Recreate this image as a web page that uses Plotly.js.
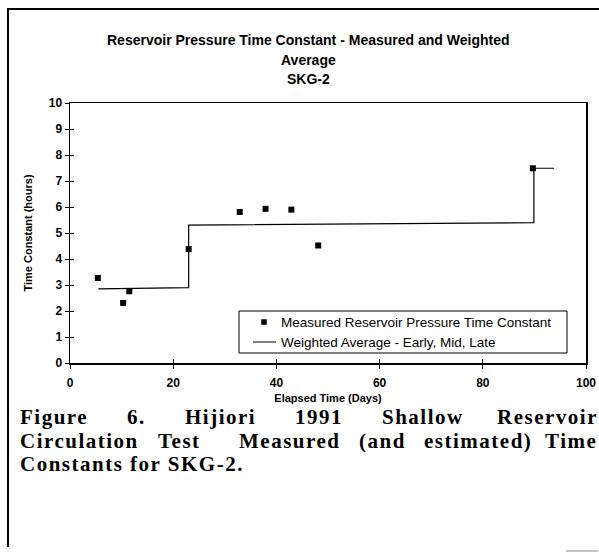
<!DOCTYPE html>
<html>
<head>
<meta charset="utf-8">
<script src="https://cdn.plot.ly/plotly-3.0.1.min.js"></script>
<style>
  html, body { margin: 0; padding: 0; background: #fff; }
  #chart { width: 599px; height: 553px; }
</style>
</head>
<body>
<div id="chart"></div>
<script>
// Measured reservoir pressure time constant (SKG-2)
const measuredDays  = [5.4, 10.3, 11.5, 23.0, 32.9, 37.9, 42.9, 48.1, 89.7];
const measuredHours = [3.27, 2.31, 2.76, 4.38, 5.81, 5.93, 5.9, 4.52, 7.49];

// Weighted average - early, mid, late (step line)
const avgDays  = [5.5, 23.0, 23.0, 89.9, 89.9, 93.8];
const avgHours = [2.85, 2.9, 5.3, 5.4, 7.49, 7.49];

const xTicks = [0, 20, 40, 60, 80, 100];
const yTicks = [0, 1, 2, 3, 4, 5, 6, 7, 8, 9, 10];

const seriesNames = ["Measured Reservoir Pressure Time Constant", "Weighted Average - Early, Mid, Late"];
const titleLines = ["Reservoir Pressure Time Constant - Measured and Weighted", "Average", "SKG-2"];
const captionLine1 = ["Figure", "6.", "Hijiori", "1991", "Shallow", "Reservoir"];
const captionLine2 = ["Circulation", "Test", "Measured", "(and", "estimated)", "Time"];
const captionLine3 = "Constants for SKG-2.";

// ---- layout geometry (pixels) ----
const W = 599, H = 553;
const PL = 70, PR = 586, PT = 103, PB = 363;
const px2x = p => (p - PL) / (PR - PL);
const py2y = p => (PB - p) / (PB - PT);

const sans = "Liberation Sans, Arial, sans-serif";
const serif = "Liberation Serif, Times New Roman, serif";

const annotations = [];
const titleY = [40, 60, 79];
titleLines.forEach((t, i) => {
  annotations.push({
    text: "<b>" + t + "</b>", xref: "paper", yref: "paper",
    x: px2x(308), y: py2y(titleY[i]), xanchor: "center", yanchor: "middle",
    showarrow: false, font: {family: sans, size: 14, color: "#000"}
  });
});

const capFont = {family: serif, size: 21, color: "#000", weight: "bold"};
const capWord = w => "<span style='letter-spacing:1.5px'>" + w + "</span>";
const capY = [417, 440.5, 464];
const cap1X = [18, 125.3, 182.8, 292.8, 379.6, 495];
captionLine1.forEach((w, i) => {
  annotations.push({
    text: capWord(w), xref: "paper", yref: "paper",
    x: px2x(cap1X[i]), y: py2y(capY[0]), xanchor: "left", yanchor: "middle",
    showarrow: false, font: capFont
  });
});
const cap2X = [18, 155.6, 237, 357.2, 422.4, 543];
captionLine2.forEach((w, i) => {
  annotations.push({
    text: capWord(w), xref: "paper", yref: "paper",
    x: px2x(cap2X[i]), y: py2y(capY[1]), xanchor: "left", yanchor: "middle",
    showarrow: false, font: capFont
  });
});
annotations.push({
  text: capWord(captionLine3), xref: "paper", yref: "paper",
  x: px2x(18), y: py2y(capY[2]), xanchor: "left", yanchor: "middle",
  showarrow: false, font: capFont
});

// legend (drawn as a boxed key)
const legFont = {family: sans, size: 13.5, color: "#000"};
[322, 342].forEach((yy, i) => {
  annotations.push({
    text: seriesNames[i], xref: "paper", yref: "paper",
    x: px2x(279), y: py2y(yy), xanchor: "left", yanchor: "middle",
    showarrow: false, font: legFont
  });
});

const shapes = [
  // page frame
  {type: "line", xref: "paper", yref: "paper", x0: px2x(7), x1: px2x(599), y0: py2y(9), y1: py2y(9), line: {color: "#000", width: 2}},
  {type: "line", xref: "paper", yref: "paper", x0: px2x(8), x1: px2x(8), y0: py2y(9), y1: py2y(547), line: {color: "#000", width: 2}},
  {type: "line", xref: "paper", yref: "paper", x0: px2x(566), x1: px2x(598), y0: py2y(551), y1: py2y(551), line: {color: "#888", width: 1}},
  // legend box and keys
  {type: "rect", xref: "paper", yref: "paper", x0: px2x(239), x1: px2x(567), y0: py2y(311), y1: py2y(353), line: {color: "#000", width: 1}, fillcolor: "#fff"},
  {type: "rect", xref: "paper", yref: "paper", x0: px2x(261.5), x1: px2x(266.5), y0: py2y(319.5), y1: py2y(324.5), line: {color: "#000", width: 0.5}, fillcolor: "#000"},
  {type: "line", xref: "paper", yref: "paper", x0: px2x(253), x1: px2x(276), y0: py2y(342), y1: py2y(342), line: {color: "#000", width: 1}}
];

const traces = [
  {
    x: measuredDays, y: measuredHours, type: "scatter", mode: "markers",
    name: seriesNames[0],
    marker: {symbol: "square", size: 6, color: "#000"}
  },
  {
    x: avgDays, y: avgHours, type: "scatter", mode: "lines",
    name: seriesNames[1],
    line: {color: "#000", width: 1.2}
  },
  // empty trace to carry the inner tick marks
  {x: [], y: [], xaxis: "x2", yaxis: "y2", type: "scatter", mode: "markers", hoverinfo: "skip"}
];

const tickFont = {family: sans, size: 12, color: "#000", weight: "bold"};
const layout = {
  width: W, height: H,
  margin: {l: PL, r: W - PR, t: PT, b: H - PB, pad: 0},
  paper_bgcolor: "#fff", plot_bgcolor: "#fff",
  showlegend: false,
  xaxis: {
    range: [0, 100], tickvals: xTicks, ticktext: xTicks.map(String),
    showgrid: false, zeroline: false, showline: true, mirror: true,
    linecolor: "#000", linewidth: 1.5, ticks: "outside", ticklen: 4, tickcolor: "#000",
    ticklabelstandoff: 4,
    tickfont: tickFont,
    title: {text: "<b>Elapsed Time (Days)</b>", font: {family: sans, size: 11, color: "#000"}, standoff: 5}
  },
  yaxis: {
    range: [0, 10], tickvals: yTicks, ticktext: yTicks.map(String),
    showgrid: false, zeroline: false, showline: true, mirror: true,
    linecolor: "#000", linewidth: 1.5, ticks: "outside", ticklen: 4, tickcolor: "#000",
    tickfont: tickFont,
    title: {text: "<b>Time Constant (hours)</b>", font: {family: sans, size: 11, color: "#000"}, standoff: 14}
  },
  xaxis2: {
    overlaying: "x", anchor: "y2", range: [0, 100], tickvals: xTicks,
    showticklabels: false, showgrid: false, zeroline: false, showline: false,
    ticks: "inside", ticklen: 4, tickcolor: "#000", side: "bottom"
  },
  yaxis2: {
    overlaying: "y", anchor: "x2", range: [0, 10], tickvals: yTicks,
    showticklabels: false, showgrid: false, zeroline: false, showline: false,
    ticks: "inside", ticklen: 4, tickcolor: "#000", side: "left"
  },
  annotations: annotations,
  shapes: shapes
};

Plotly.newPlot("chart", traces, layout, {staticPlot: true, displayModeBar: false});
</script>
</body>
</html>
